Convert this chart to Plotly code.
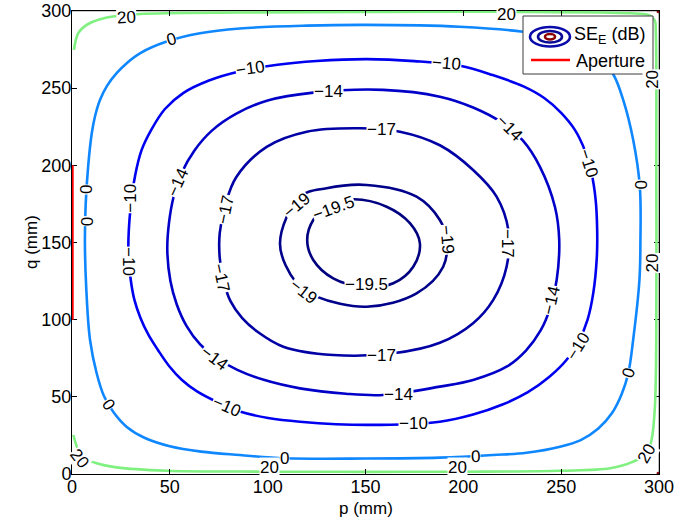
import plotly.graph_objects as go

# ---------------- data ----------------
levels = [20, 0, -10, -14, -17, -19, -19.5]

# contour 20 dB (open curve along the walls)
c20_p = [1.0, 3.2, 7.5, 14.3, 22.8, 34.7, 85.8, 150, 198, 230, 270, 288, 295, 297.8,
         298.4, 298.6, 298.6, 297.9, 296.2, 293.7, 286.8, 275, 249.4, 200, 150, 101,
         85.8, 48.4, 22.8, 12.6, 6.0, 3.2, 0.7]
c20_q = [274.8, 285.6, 291, 294.7, 296.8, 298.1, 299.0, 299.4, 299.6, 299.4, 299.0, 298.4, 297.3, 294,
         285, 200, 86.8, 43.6, 22, 13.4, 8, 3.7, 2.1, 1.5, 1.4, 1.5,
         1.6, 2.1, 4.3, 6.9, 11, 15.6, 25.3]

# contour 0 dB (closed)
c0_p = [150, 120, 85.8, 65.4, 48.4, 34.7, 28.4, 22.8, 17.9, 14.3, 11.8, 10.1, 8.3, 7.0, 6.6, 7.3,
        9.2, 12.6, 16.5, 21.5, 28, 37, 50, 66, 85.8, 108.8, 150, 188, 215.3, 232.3, 249.4, 260,
        269, 276, 281, 284.3, 286.8, 290, 290.5, 290.2, 286.8, 281.7, 276.6, 270, 261, 248,
        230.5, 198]
c0_q = [291, 290.5, 288.7, 285.6, 280.2, 272.6, 266.7, 259.7, 251.5, 242.4, 232, 220.8, 200, 175, 150, 120,
        87, 65.3, 50, 39.5, 30.5, 23.5, 18, 14.5, 12.3, 10.2, 10, 10.6, 12.3, 13.8, 17.7, 22,
        29.5, 39.5, 52, 65.3, 87, 125.7, 150, 186.2, 216.5, 242.4, 259, 268.5, 276, 282,
        286.5, 289.8]

# contour -10 dB
c10_p = [150.6, 125, 105, 86, 70, 57, 47.5, 40.5, 35.6, 32.2, 29.8, 28.8, 29.9, 31.9, 35.0, 39.1,
         43.9, 49.6, 56.2, 63.9, 73.6, 85.8, 100.2, 116.5, 150.6, 188, 205, 220, 233, 244, 252.8,
         259, 263.5, 266.5, 268.2, 268.4, 267.6, 265.5, 262, 257, 250, 241.5, 231, 215, 198.3, 175]
c10_q = [268.8, 267.6, 265.2, 261, 255, 247, 236.5, 223, 210, 193, 171, 145, 127, 112.8, 101.1, 90.1,
         80.4, 70.0, 60.9, 53.5, 47.0, 40.5, 36.3, 33.9, 31.8, 33.9, 38.5, 45, 53, 63, 74,
         86, 100, 118, 140, 158.1, 178, 195, 210, 223, 234, 243.5, 251, 258.5, 264.5, 267.5]

# contour -14 dB
c14_p = [159, 123.3, 100, 84, 71.5, 62.5, 56, 52, 49.6, 48.7, 50.3, 53.5, 58.5, 65.5, 74, 84.5,
         98, 116.5, 140, 159, 188, 205, 222.1, 232, 239.5, 244.5, 247.7, 249, 246.8, 239.1,
         230.5, 220, 205, 188]
c14_q = [248.9, 247.1, 242, 233.5, 222.5, 209.5, 195, 180, 163, 145, 125, 110, 96, 84, 75, 67.5,
         61, 55.5, 52, 51.2, 56.6, 60.9, 69.5, 80, 93, 108, 125.7, 151.7, 173.2, 199.2,
         216, 227.5, 237.5, 244.5]

# contour -17 dB
c17_p = [147.2, 120, 99.5, 84, 78.5, 75.5, 75.5, 77.5, 81, 87, 95, 108, 133.5, 164.2, 188, 205,
         215.3, 222.1, 223, 217, 205, 188, 167.6]
c17_q = [224, 221.8, 212, 192.5, 175, 156, 140, 125, 112, 101, 92, 82.5, 77.1, 78.2, 85, 97.7,
         112.8, 134.3, 158, 179.7, 197, 213, 221.8]

# contour -19 dB
c19_p = [150.6, 130.1, 116.5, 106.3, 114.8, 125, 150.6, 176.1, 189.7, 191.5, 188, 176.1]
c19_q = [187.3, 185.2, 179.7, 149.5, 123.6, 114.9, 108.4, 117.1, 134.3, 151.7, 164.6, 179.7]

# contour -19.5 dB
c195_p = [143.7, 131.8, 123.3, 120.2, 123.3, 133.5, 148.9, 164.2, 174.4, 177.8, 172.7, 160.8]
c195_q = [178, 174.3, 164.6, 151.7, 138.7, 126.8, 121.4, 123.6, 134.3, 149.5, 162.5, 173.2]

# tiny high-level contour fragments in the right-hand corners
chi_top_p = [299.0, 300.0]
chi_top_q = [300.0, 299.0]
chi_bot_p = [299.0, 300.0]
chi_bot_q = [0.0, 1.0]

# aperture
aperture_p = [0, 0]
aperture_q = [100, 200]

# axis ticks
tick_vals = [0, 50, 100, 150, 200, 250, 300]

# contour labels: text, p, q, angle
lab_text = ["20", "20", "20", "20", "20", "20", "20", "20",
            "0", "0", "0", "0", "0", "0", "0", "0",
            "−10", "−10", "−10", "−10", "−10", "−10", "−10", "−10",
            "−14", "−14", "−14", "−14", "−14", "−14",
            "−17", "−17", "−17", "−17", "−17",
            "−19", "−19", "−19",
            "−19.5", "−19.5"]
lab_p = [28, 222, 296.9, 296.9, 3.8, 101, 197, 293.7,
         50.7, 7.4, 7.2, 290.2, 284.3, 108.8, 206, 18.6,
         91, 191.6, 264, 258.7, 79, 174.4, 29.9, 28.9,
         131, 54.3, 223.8, 245.3, 73, 166.8,
         158.2, 78.2, 76.2, 222.5, 158.2,
         114.8, 191.5, 118.2,
         133.5, 150.6]
lab_q = [296, 297.9, 256, 137, 10, 4.5, 4.5, 13.4,
         281.3, 184.3, 164.1, 187.3, 65.3, 10.2, 11.2, 45.2,
         262.6, 266, 201.3, 82.6, 43.5, 32.9, 178.7, 137.6,
         247.8, 188.6, 224, 112.8, 75, 51.6,
         223, 171, 127.3, 149.5, 76.5,
         174.3, 151.7, 118.1,
         172.2, 122.5]
lab_angle = [-3, 0, -90, -90, 52, 0, 0, -60,
             -16, -90, 90, 90, -72, 0, -2, 55,
             -8, 5, 72, -58, 24, 0, -90, 90,
             0, -66, 45, -77, 37, 0,
             0, -78, 78, 90, 0,
             -40, 85, 38,
             -20, 0]

# ---------------- styles ----------------
colors = {20: "rgb(128,240,128)", 0: "rgb(15,135,255)", -10: "rgb(0,0,240)",
          -14: "rgb(0,0,200)", -17: "rgb(0,0,165)", -19: "rgb(0,0,138)", -19.5: "rgb(0,0,128)"}
FONT = "Liberation Sans, Arial, Helvetica, sans-serif"

curves = {20: (c20_p, c20_q, False), 0: (c0_p, c0_q, True), -10: (c10_p, c10_q, True),
          -14: (c14_p, c14_q, True), -17: (c17_p, c17_q, True), -19: (c19_p, c19_q, True),
          -19.5: (c195_p, c195_q, True)}

fig = go.Figure()
for lev in levels:
    p, q, closed = curves[lev]
    if closed:
        p = list(p) + [p[0]]
        q = list(q) + [q[0]]
    fig.add_trace(go.Scatter(x=p, y=q, mode="lines",
                             line=dict(color=colors[lev], width=2.6, shape="spline", smoothing=1.0),
                             showlegend=False, hoverinfo="skip"))

for hp, hq in ((chi_top_p, chi_top_q), (chi_bot_p, chi_bot_q)):
    fig.add_trace(go.Scatter(x=hp, y=hq, mode="lines", line=dict(color="rgb(128,0,0)", width=2.6),
                             showlegend=False, hoverinfo="skip"))

fig.add_trace(go.Scatter(x=aperture_p, y=aperture_q, mode="lines", line=dict(color="rgb(255,0,0)", width=3.4),
                         showlegend=False, hoverinfo="skip", cliponaxis=False))

annotations = []
for t, p, q, a in zip(lab_text, lab_p, lab_q, lab_angle):
    annotations.append(dict(x=p, y=q, xref="x", yref="y", text=t, showarrow=False, textangle=a,
                            font=dict(family=FONT, size=17, color="black"), bgcolor="white", borderpad=0))

# ---------------- hand-built legend and axis titles ----------------
# page pixel -> paper fraction (plot area sits at x 72..659, y 11..474 of the page)
X0, X1, Y0, Y1 = 72, 659, 11, 474
def px(x):
    return (x - X0) / (X1 - X0)
def py(y):
    return (Y1 - y) / (Y1 - Y0)

shapes = [
    dict(type="rect", xref="paper", yref="paper", x0=px(523), x1=px(653), y0=py(74), y1=py(16),
         fillcolor="white", line=dict(color="rgb(60,60,60)", width=1), layer="above"),
    dict(type="circle", xref="paper", yref="paper", x0=px(530), x1=px(570), y0=py(46.5), y1=py(27),
         line=dict(color="rgb(10,10,170)", width=2.6), layer="above"),
    dict(type="circle", xref="paper", yref="paper", x0=px(538), x1=px(562), y0=py(42.5), y1=py(31),
         line=dict(color="rgb(10,10,150)", width=2.6), layer="above"),
    dict(type="circle", xref="paper", yref="paper", x0=px(545), x1=px(555), y0=py(39.5), y1=py(34),
         line=dict(color="rgb(140,0,0)", width=2.6), layer="above"),
    dict(type="line", xref="paper", yref="paper", x0=px(531), x1=px(570), y0=py(60), y1=py(60),
         line=dict(color="rgb(255,0,0)", width=2.6), layer="above"),
    dict(type="line", xref="paper", yref="paper", x0=0, x1=1, y0=1, y1=1,
         line=dict(color="rgb(150,150,150)", width=1.2), layer="below"),
    dict(type="line", xref="paper", yref="paper", x0=1, x1=1, y0=0, y1=1,
         line=dict(color="rgb(150,150,150)", width=1.2), layer="below"),
]
annotations.append(dict(x=px(572), y=py(36), xref="paper", yref="paper", xanchor="left", yanchor="middle",
                        text="SE<sub>E</sub> (dB)", showarrow=False, font=dict(family=FONT, size=18, color="black")))
annotations.append(dict(x=px(574), y=py(61), xref="paper", yref="paper", xanchor="left", yanchor="middle",
                        text="Aperture", showarrow=False, font=dict(family=FONT, size=18, color="black")))
annotations.append(dict(x=px(366), y=py(509), xref="paper", yref="paper", xanchor="center", yanchor="middle",
                        text="p (mm)", showarrow=False, font=dict(family=FONT, size=17, color="black")))
annotations.append(dict(x=px(31), y=py(242), xref="paper", yref="paper", xanchor="center", yanchor="middle",
                        text="q (mm)", showarrow=False, textangle=-90, font=dict(family=FONT, size=17, color="black")))

axis_common = dict(range=[0, 300], tickvals=tick_vals, ticks="inside", ticklen=5,
                   tickcolor="black", showline=True, linecolor="black", linewidth=1, mirror="ticks",
                   showgrid=False, zeroline=False, tickfont=dict(family=FONT, size=18, color="black"),
                   fixedrange=True, automargin=False, ticklabelstandoff=-4, ticklabeloverflow="allow")

fig.update_layout(
    width=699, height=522,
    margin=dict(l=72, r=40, t=11, b=48, autoexpand=False),
    paper_bgcolor="white", plot_bgcolor="white",
    xaxis=dict(**axis_common),
    yaxis=dict(**axis_common),
    shapes=shapes,
    annotations=annotations,
    showlegend=False,
)
fig.update_yaxes(layer="below traces")

# remove the default page margin so the figure sits at the window's top-left corner
fig.write_html("out.html", config={"displayModeBar": False},
               post_script="document.body.style.margin='0';")
